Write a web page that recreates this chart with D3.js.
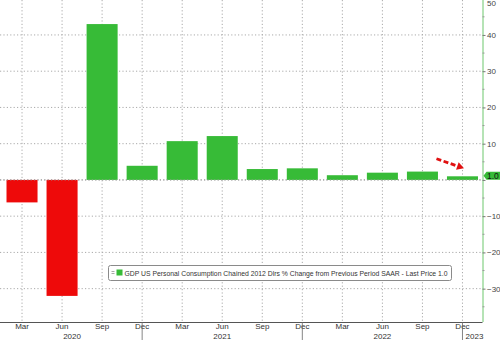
<!DOCTYPE html>
<html>
<head>
<meta charset="utf-8">
<script src="https://cdn.jsdelivr.net/npm/d3@7"></script>
<style>
  html, body { margin: 0; padding: 0; background: #fff; }
  svg { display: block; font-family: "Liberation Sans", Arial, sans-serif; }
</style>
</head>
<body>
<svg id="chart" width="500" height="340"></svg>
<script>
// Quarter-end labels and quarterly % change (SAAR) of real personal consumption
const quarters = ["Mar 2020", "Jun 2020", "Sep 2020", "Dec 2020",
                  "Mar 2021", "Jun 2021", "Sep 2021", "Dec 2021",
                  "Mar 2022", "Jun 2022", "Sep 2022", "Dec 2022"];
const monthLabels = ["Mar", "Jun", "Sep", "Dec", "Mar", "Jun", "Sep", "Dec", "Mar", "Jun", "Sep", "Dec"];
const values = [-6.2, -32.0, 43.0, 3.9, 10.7, 12.1, 3.0, 3.2, 1.3, 2.0, 2.3, 1.0];
const yearLabels = ["2020", "2021", "2022", "2023"];
const yTicks = [-30, -20, -10, 0, 10, 20, 30, 40, 50];
const yMinorTicks = [-35, -25, -15, -5, 5, 15, 25, 35, 45];
const lastPrice = 1.0;
const legendText = "GDP US Personal Consumption Chained 2012 Dlrs % Change from Previous Period SAAR - Last Price 1.0";

const svg = d3.select("#chart");
const plotRight = 482.5, plotBottom = 322;

const x = d3.scaleBand().domain(quarters).range([2, plotRight]).paddingInner(0.225).paddingOuter(0.1125);
const y = d3.scaleLinear().domain([-39.2, 50]).range([plotBottom, -1.3]);
const cx = q => x(q) + x.bandwidth() / 2;

const green = "#37bb37", red = "#ee0a0a", gridCol = "#aaaaaa";

// horizontal grid
svg.append("g").selectAll("line").data(yTicks.filter(t => t < 50)).join("line")
  .attr("x1", 0).attr("x2", plotRight)
  .attr("y1", d => y(d)).attr("y2", d => y(d))
  .attr("stroke", gridCol).attr("stroke-width", 1).attr("stroke-dasharray", "1.2,2.2");

// vertical grid at each quarter
svg.append("g").selectAll("line").data(quarters).join("line")
  .attr("x1", d => cx(d)).attr("x2", d => cx(d))
  .attr("y1", 0).attr("y2", plotBottom)
  .attr("stroke", gridCol).attr("stroke-width", 1).attr("stroke-dasharray", "1.2,2.2");

// bars
svg.append("g").selectAll("rect").data(quarters).join("rect")
  .attr("x", d => x(d)).attr("width", x.bandwidth())
  .attr("y", (d, i) => y(Math.max(0, values[i])))
  .attr("height", (d, i) => Math.abs(y(values[i]) - y(0)))
  .attr("fill", (d, i) => values[i] < 0 ? red : green);

// dotted zero line on top of the bars
svg.append("line").attr("x1", 0).attr("x2", plotRight).attr("y1", y(0)).attr("y2", y(0))
  .attr("stroke", "#999").attr("stroke-width", 1).attr("stroke-dasharray", "1.2,2.2");

// bottom axis
const xAxis = d3.axisBottom(x).tickSize(0).tickFormat((d, i) => monthLabels[i]);
const gx = svg.append("g").attr("transform", `translate(0,${plotBottom})`).call(xAxis);
gx.select(".domain").attr("d", `M0,0.5H${plotRight}`).attr("stroke", "#555");
gx.selectAll("text").attr("y", 1.5).attr("font-size", 8).attr("fill", "#333");

// year separators at the December ticks and year labels
const decs = quarters.filter(q => q.startsWith("Dec"));
svg.append("g").selectAll("line").data(decs).join("line")
  .attr("x1", d => cx(d)).attr("x2", d => cx(d))
  .attr("y1", plotBottom).attr("y2", 340)
  .attr("stroke", "#666").attr("stroke-width", 0.8);
const bounds = [2, ...decs.map(cx), plotRight];
svg.append("g").selectAll("text").data(yearLabels).join("text")
  .attr("x", (d, i) => i < 3 ? (bounds[i] + bounds[i + 1]) / 2 : bounds[i] + 12)
  .attr("y", 338.5).attr("text-anchor", "middle")
  .attr("font-size", 8).attr("fill", "#333").text(d => d);

// right value axis
const yAxis = d3.axisRight(y).tickValues(yTicks).tickSize(3).tickPadding(1.5).tickFormat(d3.format("d"));
const gy = svg.append("g").attr("transform", `translate(${plotRight},0)`).call(yAxis);
gy.select(".domain").attr("d", `M0.5,-2V${plotBottom}`).attr("stroke", "#6cc76c");
gy.selectAll(".tick line").attr("stroke", "#777");
gy.selectAll("text").attr("font-size", 8).attr("fill", "#444");
gy.selectAll(".tick").filter(d => d === 0).select("text").attr("opacity", 0);
gy.selectAll(".tick").filter(d => d === 50).select("text").attr("dy", "0.32em").attr("y", 4.5);
svg.append("g").selectAll("line").data(yMinorTicks).join("line")
  .attr("x1", plotRight).attr("x2", plotRight + 2)
  .attr("y1", d => y(d)).attr("y2", d => y(d))
  .attr("stroke", "#999");

// last price tag
const tagY = y(lastPrice) - 0.5;
svg.append("path")
  .attr("d", `M${plotRight + 1},${tagY} L${plotRight + 4},${tagY - 4} H500 V${tagY + 4} H${plotRight + 4} Z`)
  .attr("fill", green);
svg.append("text").attr("x", plotRight + 4.5).attr("y", tagY + 3).attr("font-size", 8.5)
  .attr("fill", "#111").text(d3.format(".1f")(lastPrice));

// red dashed callout arrow pointing at the latest bar
const last = quarters[quarters.length - 1];
const ax0 = cx(last) - 26, ay0 = y(lastPrice) - 17.5;
const ax1 = cx(last) + 1.5, ay1 = y(lastPrice) - 8;
const ang = Math.atan2(ay1 - ay0, ax1 - ax0);
const hl = 7, hw = 4;
const bx = ax1 - hl * Math.cos(ang), by = ay1 - hl * Math.sin(ang);
svg.append("line").attr("x1", ax0).attr("y1", ay0).attr("x2", bx).attr("y2", by)
  .attr("stroke", "#e01010").attr("stroke-width", 2.8).attr("stroke-dasharray", "5,2.5");
svg.append("path")
  .attr("d", `M${ax1},${ay1} L${bx - hw * Math.sin(ang)},${by + hw * Math.cos(ang)} L${bx + hw * Math.sin(ang)},${by - hw * Math.cos(ang)} Z`)
  .attr("fill", "#e01010");

// legend
const lg = svg.append("g");
lg.append("rect").attr("x", 108.5).attr("y", 265.5).attr("width", 343).attr("height", 15)
  .attr("rx", 2).attr("fill", "#fff").attr("stroke", "#8a8a8a").attr("stroke-width", 1);
lg.append("rect").attr("x", 111.5).attr("y", 271).attr("width", 3).attr("height", 1).attr("fill", "#aaa");
lg.append("rect").attr("x", 111.5).attr("y", 273).attr("width", 3).attr("height", 1).attr("fill", "#aaa");
lg.append("rect").attr("x", 116.5).attr("y", 269.5).attr("width", 6).attr("height", 6).attr("fill", green);
lg.append("text").attr("x", 124.5).attr("y", 276).attr("font-size", 7.6).attr("fill", "#333")
  .attr("textLength", 323).attr("lengthAdjust", "spacingAndGlyphs").text(legendText);
</script>
</body>
</html>
